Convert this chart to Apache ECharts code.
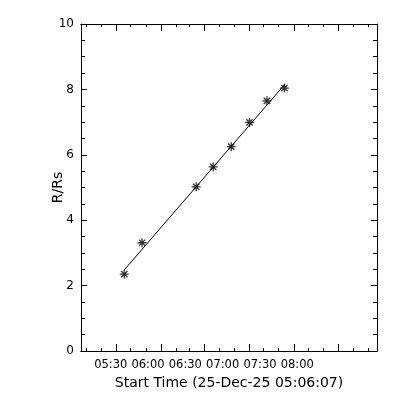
<!DOCTYPE html>
<html>
<head>
<meta charset="utf-8">
<script src="https://cdn.jsdelivr.net/npm/echarts@6/dist/echarts.min.js"></script>
<style>html,body{margin:0;padding:0;background:#fff}#c{width:400px;height:400px}</style>
</head>
<body>
<div id="c"></div>
<script>
// ---- data ----
const axisStart = "05:06:07";
const axisEnd = "09:04:07";
const obsTimes = ["05:40:54","05:55:12","06:38:42","06:52:24","07:06:54","07:21:36","07:35:36","07:49:42"];
const obsRRs = [2.35, 3.31, 5.02, 5.63, 6.25, 6.99, 7.65, 8.04];
const fitTimes = ["05:40:54","07:49:42"];
const fitRRs = [2.48, 8.14];
const xLabelTimes = ["05:30","06:00","06:30","07:00","07:30","08:00"];
const xMajorTickTimes = ["05:34:12","06:10:24","06:45:30","07:21:42","07:57:12","08:33:00"];
const xMinorTickTimes = ["05:10:42","05:22:12","05:45:36","05:58:12","06:22:30","06:33:30","06:57:30","07:09:36","07:32:54","07:45:00","08:09:00","08:21:06","08:44:48","08:56:54"];
const yTicks = [0, 2, 4, 6, 8, 10];
const xTitle = "Start Time (25-Dec-25 05:06:07)";
const yTitle = "R/Rs";

function toMin(s) {
  const p = s.split(":").map(Number);
  return p[0] * 60 + p[1] + (p[2] || 0) / 60;
}
function fmt(v) {
  const m = Math.round(v);
  const h = Math.floor(m / 60), mm = m % 60;
  return (h < 10 ? "0" : "") + h + ":" + (mm < 10 ? "0" : "") + mm;
}

const xMin = toMin(axisStart), xMax = toMin(axisEnd);
const black = "#000";
const font = "DejaVu Sans";

function xAx(pos, ticks, len, labels) {
  return {
    type: "value", position: pos, min: xMin, max: xMax,
    axisLine: { show: true, onZero: false, lineStyle: { color: black, width: 1 } },
    axisTick: { show: true, inside: true, length: len, customValues: ticks, lineStyle: { color: black, width: 1 } },
    axisLabel: labels ? { show: true, customValues: xLabelTimes.map(toMin), formatter: fmt, color: black, fontFamily: font, fontSize: 11.5, margin: 8 } : { show: false },
    splitLine: { show: false },
    name: labels ? xTitle : "", nameLocation: "middle", nameGap: 25,
    nameTextStyle: { color: black, fontFamily: font, fontSize: 14 }
  };
}
function yAx(pos, labels) {
  return {
    type: "value", position: pos, min: yTicks[0], max: yTicks[yTicks.length - 1], interval: 2,
    axisLine: { show: true, onZero: false, lineStyle: { color: black, width: 1 } },
    axisTick: { show: true, inside: true, length: 6, lineStyle: { color: black, width: 1 } },
    minorTick: { show: true, splitNumber: 4, length: 4, lineStyle: { color: black, width: 1 } },
    axisLabel: { show: labels, color: black, fontFamily: font, fontSize: 12, margin: 7 },
    splitLine: { show: false }, minorSplitLine: { show: false },
    name: labels ? yTitle : "", nameLocation: "middle", nameGap: 16, nameMoveOverlap: false,
    nameTextStyle: { color: black, fontFamily: font, fontSize: 14 }
  };
}

const chart = echarts.init(document.getElementById("c"), null, { renderer: "canvas" });
chart.setOption({
  backgroundColor: "#fff",
  animation: false,
  grid: { left: 81, right: 23, top: 24, bottom: 49, containLabel: false },
  xAxis: [
    xAx("bottom", xMajorTickTimes.map(toMin), 7, true),
    xAx("bottom", xMinorTickTimes.map(toMin), 3, false),
    xAx("top", xMajorTickTimes.map(toMin), 7, false),
    xAx("top", xMinorTickTimes.map(toMin), 3, false)
  ],
  yAxis: [yAx("left", true), yAx("right", false)],
  series: [
    {
      type: "line", xAxisIndex: 0, yAxisIndex: 0,
      data: fitTimes.map((t, i) => [toMin(t), fitRRs[i]]),
      symbol: "none", lineStyle: { color: black, width: 1 }, silent: true
    },
    {
      type: "scatter", xAxisIndex: 0, yAxisIndex: 0,
      data: obsTimes.map((t, i) => [toMin(t), obsRRs[i]]),
      symbol: "path://M5 0L5 10M0 5L10 5M1.5 1.5L8.5 8.5M1.5 8.5L8.5 1.5",
      symbolSize: 9, symbolKeepAspect: true,
      itemStyle: { color: "rgba(0,0,0,0)", borderColor: black, borderWidth: 1.3 }
    }
  ]
});
</script>
</body>
</html>
